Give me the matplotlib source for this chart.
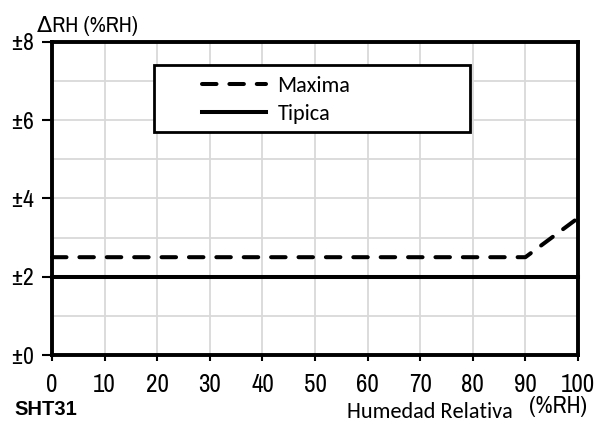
import matplotlib
matplotlib.use("Agg")
import matplotlib.pyplot as plt
from matplotlib.patches import Rectangle
from matplotlib.ticker import MultipleLocator, FixedLocator
import logging
logging.getLogger("matplotlib.font_manager").setLevel(logging.ERROR)

rh_max = [0, 90, 100]
dev_max = [2.5, 2.5, 3.5]
rh_typ = [0, 100]
dev_typ = [2, 2]
xticks = list(range(0, 101, 10))
yticks = [0, 2, 4, 6, 8]
ytick_labels = ["±0", "±2", "±4", "±6", "±8"]

narrow = ["Liberation Sans Narrow", "Archivo Narrow", "DejaVu Sans"]
bold_fam = ["Liberation Sans", "DejaVu Sans"]
calib = ["Carlito", "Open Sans", "DejaVu Sans"]

fig = plt.figure(figsize=(5.98, 4.23), dpi=100)
ax = fig.add_axes([52/598, 1-355/423, 526/598, 313/423])

ax.set_xlim(0, 100)
ax.set_ylim(0, 8)
ax.xaxis.set_major_locator(FixedLocator(xticks))
ax.yaxis.set_major_locator(FixedLocator(yticks))
ax.yaxis.set_minor_locator(MultipleLocator(1))
ax.set_yticklabels(ytick_labels)
ax.set_xticklabels([str(v) for v in xticks])
ax.grid(True, which="both", color="#d9d9d9", linewidth=1.3)
ax.set_axisbelow(True)
for s in ax.spines.values():
    s.set_linewidth(2.8)
    s.set_color("black")
ax.tick_params(axis="x", which="major", direction="out", length=4, width=1.5,
               labelsize=18, pad=9)
ax.tick_params(axis="y", which="major", direction="out", length=7, width=1.5,
               labelsize=17, pad=6)
ax.tick_params(axis="y", which="minor", length=0)
for lab in ax.get_xticklabels() + ax.get_yticklabels():
    lab.set_family(narrow)

l1, = ax.plot(rh_max, dev_max, color="black", linewidth=2.9, linestyle=(0, (3.6, 3.2)),
              dash_capstyle="round", label="Maxima", clip_on=False)
l2, = ax.plot(rh_typ, dev_typ, color="black", linewidth=2.9, label="Tipica", clip_on=False)

# legend frame
ax.add_patch(Rectangle((102/526, 0.712), 316/526, 0.215, transform=ax.transAxes,
                       facecolor="white", edgecolor="black", linewidth=2, zorder=5))
leg = ax.legend(handles=[l1, l2], loc="center left",
                bbox_to_anchor=(150/526, 0.815), frameon=False,
                prop={"family": calib, "size": 16}, handlelength=2.9,
                borderaxespad=0, labelspacing=0.36, borderpad=0, handletextpad=0.5)
leg.set_zorder(6)

fig.text(37/598, 1-26/423, "ΔRH (%RH)", family=narrow, fontsize=16, va="center", ha="left")
fig.text(14/598, 1-409/423, "SHT31", family=bold_fam, fontsize=14.5, fontweight="bold",
         va="center", ha="left")
fig.text(347/598, 1-412/423, "Humedad Relativa", family=calib, fontsize=16,
         va="center", ha="left")
fig.text(529/598, 1-406/423, "(%RH)", family=narrow, fontsize=17, va="center", ha="left")

fig.savefig("out.png", dpi=100)
